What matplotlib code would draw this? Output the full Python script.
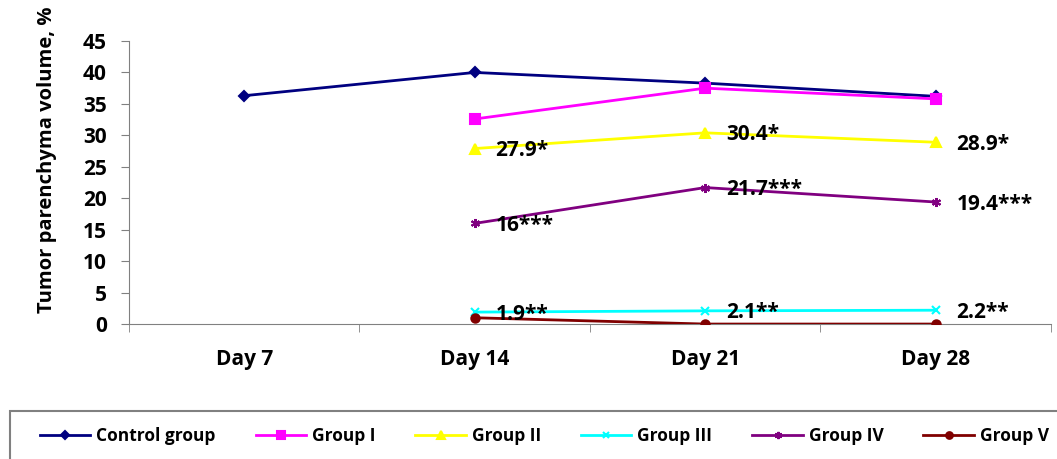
import matplotlib.pyplot as plt
from matplotlib.patches import Rectangle

plt.rcParams['font.family'] = ['Open Sans', 'DejaVu Sans']
plt.rcParams['font.weight'] = 'bold'

days = ['Day 7', 'Day 14', 'Day 21', 'Day 28']

control = [36.3, 40.0, 38.3, 36.2]
group_1 = [None, 32.6, 37.5, 35.8]
group_2 = [None, 27.9, 30.4, 28.9]
group_3 = [None, 1.9, 2.1, 2.2]
group_4 = [None, 16.0, 21.7, 19.4]
group_5 = [None, 1.0, 0.0, 0.0]

labels_2 = [None, '27.9*', '30.4*', '28.9*']
labels_3 = [None, '1.9**', '2.1**', '2.2**']
labels_4 = [None, '16***', '21.7***', '19.4***']

series = [
    ('Control group', control, '#000080', 'D', 5),
    ('Group I', group_1, '#FF00FF', 's', 6.5),
    ('Group II', group_2, '#FFFF00', '^', 7),
    ('Group III', group_3, '#00FFFF', 'x', 6),
    ('Group IV', group_4, '#800080', (6, 2, 0), 6.5),
    ('Group V', group_5, '#800000', 'o', 6),
]

fig = plt.figure(figsize=(10.57, 4.59), dpi=100)
ax = fig.add_axes([0.122, 0.294, 0.8723, 0.6167])

handles = []
for name, vals, color, marker, ms in series:
    xs = [i for i, v in enumerate(vals) if v is not None]
    ys = [v for v in vals if v is not None]
    ln, = ax.plot(xs, ys, color=color, lw=2, marker=marker, ms=ms,
                  mec=color, mfc=color, mew=1.5, label=name)
    handles.append(ln)

# значення з позначками достовірності праворуч від точок
for vals, labs in [(group_2, labels_2), (group_3, labels_3), (group_4, labels_4)]:
    for i, (v, t) in enumerate(zip(vals, labs)):
        if t is None:
            continue
        ax.annotate(t, (i, v), xytext=(15, -1.5), textcoords='offset points',
                    ha='left', va='center', fontsize=15, fontweight='bold')

ax.set_xlim(-0.5, 3.5)
ax.set_ylim(0, 45)
ax.set_yticks(range(0, 46, 5))
ax.set_xticks(range(4))
ax.set_xticklabels(days)
ax.set_xticks([-0.5, 0.5, 1.5, 2.5, 3.5], minor=True)
ax.tick_params(axis='x', which='major', length=0, pad=18, labelsize=15)
ax.tick_params(axis='x', which='minor', length=6, color='#808080')
ax.tick_params(axis='y', length=6, color='#808080', labelsize=15, pad=10)
for lab in ax.get_xticklabels() + ax.get_yticklabels():
    lab.set_fontweight('bold')

for s in ['top', 'right']:
    ax.spines[s].set_visible(False)
for s in ['left', 'bottom']:
    ax.spines[s].set_color('#808080')
ax.spines['bottom'].set_zorder(0)

ax.set_ylabel('Tumor parenchyma volume, %', fontsize=14.5, fontweight='bold')
ax.yaxis.set_label_coords(-0.078, 0.58)

# рамка легенди внизу
fig.patches.append(Rectangle((10 / 1057, -0.1), 1.2, (459 - 411) / 459 + 0.1,
                             transform=fig.transFigure, fill=False,
                             edgecolor='#808080', lw=1.5))
leg = fig.legend(handles=handles, loc='center', bbox_to_anchor=(0.515, 1 - 436 / 459),
                 ncol=6, frameon=False, handlelength=2.9, markerscale=0.8,
                 handletextpad=0.35, columnspacing=2.3, prop={'weight': 'bold', 'size': 12.5})

fig.savefig('out.png', dpi=100)
